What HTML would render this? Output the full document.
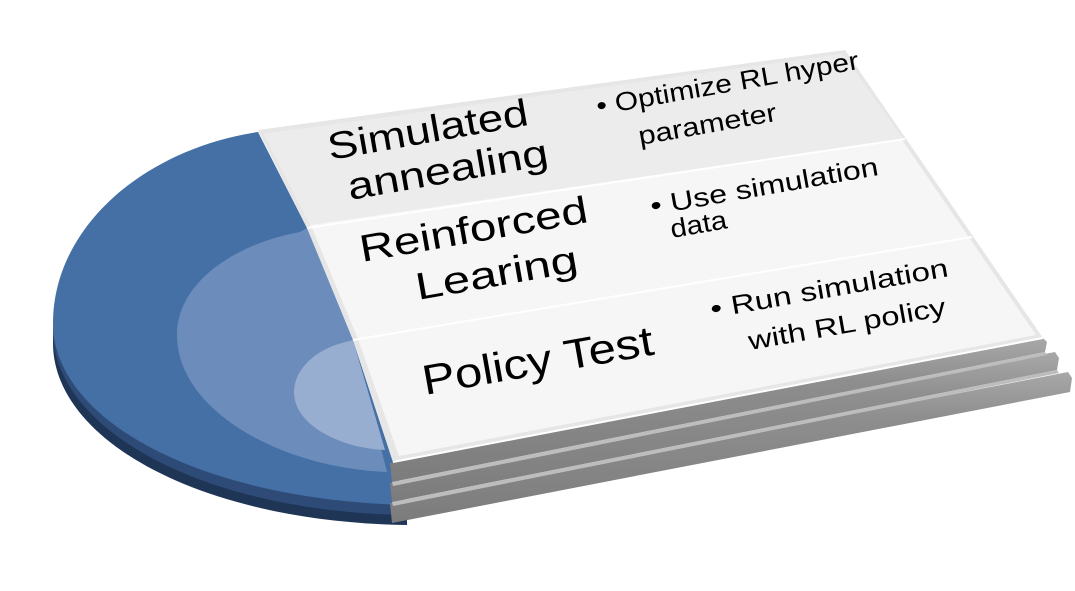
<!DOCTYPE html>
<html><head><meta charset="utf-8"><style>
html,body{margin:0;padding:0;background:#fff;width:1075px;height:591px;overflow:hidden}
svg{display:block}
text{font-family:"Liberation Sans",sans-serif;fill:#000}
</style></head><body>
<svg width="1075" height="591" viewBox="0 0 1075 591" xmlns="http://www.w3.org/2000/svg">
<defs>
<linearGradient id="slab" x1="0" y1="0" x2="0" y2="1">
<stop offset="0" stop-color="#a8a8a8"/><stop offset="0.3" stop-color="#8e8e8e"/><stop offset="1" stop-color="#7c7c7c"/>
</linearGradient>
</defs>
<!-- disc thickness -->
<path d="M258,152 C140,170 53,250 53,343 C53,440 200,522 407,525 L407,505 L258,132 Z" fill="#1f3556"/>
<path d="M258,140 C140,158 53,238 53,331 C53,428 200,512 407,515 L407,505 Z" fill="#2e4b77"/>
<!-- disc top -->
<path d="M258,132 C140,150 53,230 53,323 C53,420 200,500 407,505 L393,462 L353,340 L307,228 Z" fill="#4470a6"/>
<path d="M300,232 C230,245 177,285 177,335 C177,410 280,468 387,472 L353,340 L307,228 Z" fill="#6c8dbb"/>
<path d="M342,343 C315,350 294,370 294,392 C294,425 340,448 385,450 L353,340 Z" fill="#98aed0"/>
<!-- slabs -->
<path d="M390,503 L1068,372 L1072,378 L1070,392 L392,523 Z" fill="url(#slab)"/>
<path d="M390,483 L1055,352 L1059,358 L1057,370 L392,502 Z" fill="url(#slab)"/>
<path d="M390,463 L1043,338 L1047,342 L1045,352 L392,482 Z" fill="url(#slab)"/>
<path d="M392,482 L1045,352 L1047,355 L393,486 Z" fill="#bdbdbd"/>
<path d="M392,502 L1057,370 L1059,373 L393,506 Z" fill="#bdbdbd"/>
<!-- panel -->
<path d="M258,130 L845,50 L1043,338 L393,462 L353,340 L307,228 Z" fill="#e6e6e6"/>
<path d="M264,134 L843,54 L1036,335 L399,456 L358,339 L312,228 Z" fill="#f6f6f6"/>
<path d="M264,134 L843,54 L903,139 L310,225 Z" fill="#ececec"/>
<path d="M307,228 L905,139" stroke="#fff" stroke-width="2"/>
<path d="M353,340 L972,237" stroke="#fff" stroke-width="2"/>
<path d="M393,462 L1043,338" stroke="#fff" stroke-width="2"/>
<!-- text -->
<g font-size="38">
<text transform="translate(330,160) rotate(-10)" textLength="203" lengthAdjust="spacingAndGlyphs">Simulated</text>
<text transform="translate(350,200) rotate(-10)" textLength="203" lengthAdjust="spacingAndGlyphs">annealing</text>
<text transform="translate(362,262) rotate(-10)" textLength="231" lengthAdjust="spacingAndGlyphs">Reinforced</text>
<text transform="translate(418,300) rotate(-10)" textLength="164" lengthAdjust="spacingAndGlyphs">Learing</text>
</g>
<text font-size="42" transform="translate(425,395) rotate(-10)" textLength="234" lengthAdjust="spacingAndGlyphs">Policy Test</text>
<g font-size="26">
<text transform="translate(598,115) rotate(-10)" textLength="266" lengthAdjust="spacingAndGlyphs">• Optimize RL hyper</text>
<text transform="translate(640,145) rotate(-10)" textLength="140" lengthAdjust="spacingAndGlyphs">parameter</text>
<text transform="translate(652,215) rotate(-10)" textLength="231" lengthAdjust="spacingAndGlyphs">• Use simulation</text>
<text transform="translate(672,238) rotate(-10)" textLength="57" lengthAdjust="spacingAndGlyphs">data</text>
<text transform="translate(712,318) rotate(-10)" textLength="241" lengthAdjust="spacingAndGlyphs">• Run simulation</text>
<text transform="translate(750,350) rotate(-10)" textLength="200" lengthAdjust="spacingAndGlyphs">with RL policy</text>
</g>
</svg>
</body></html>
